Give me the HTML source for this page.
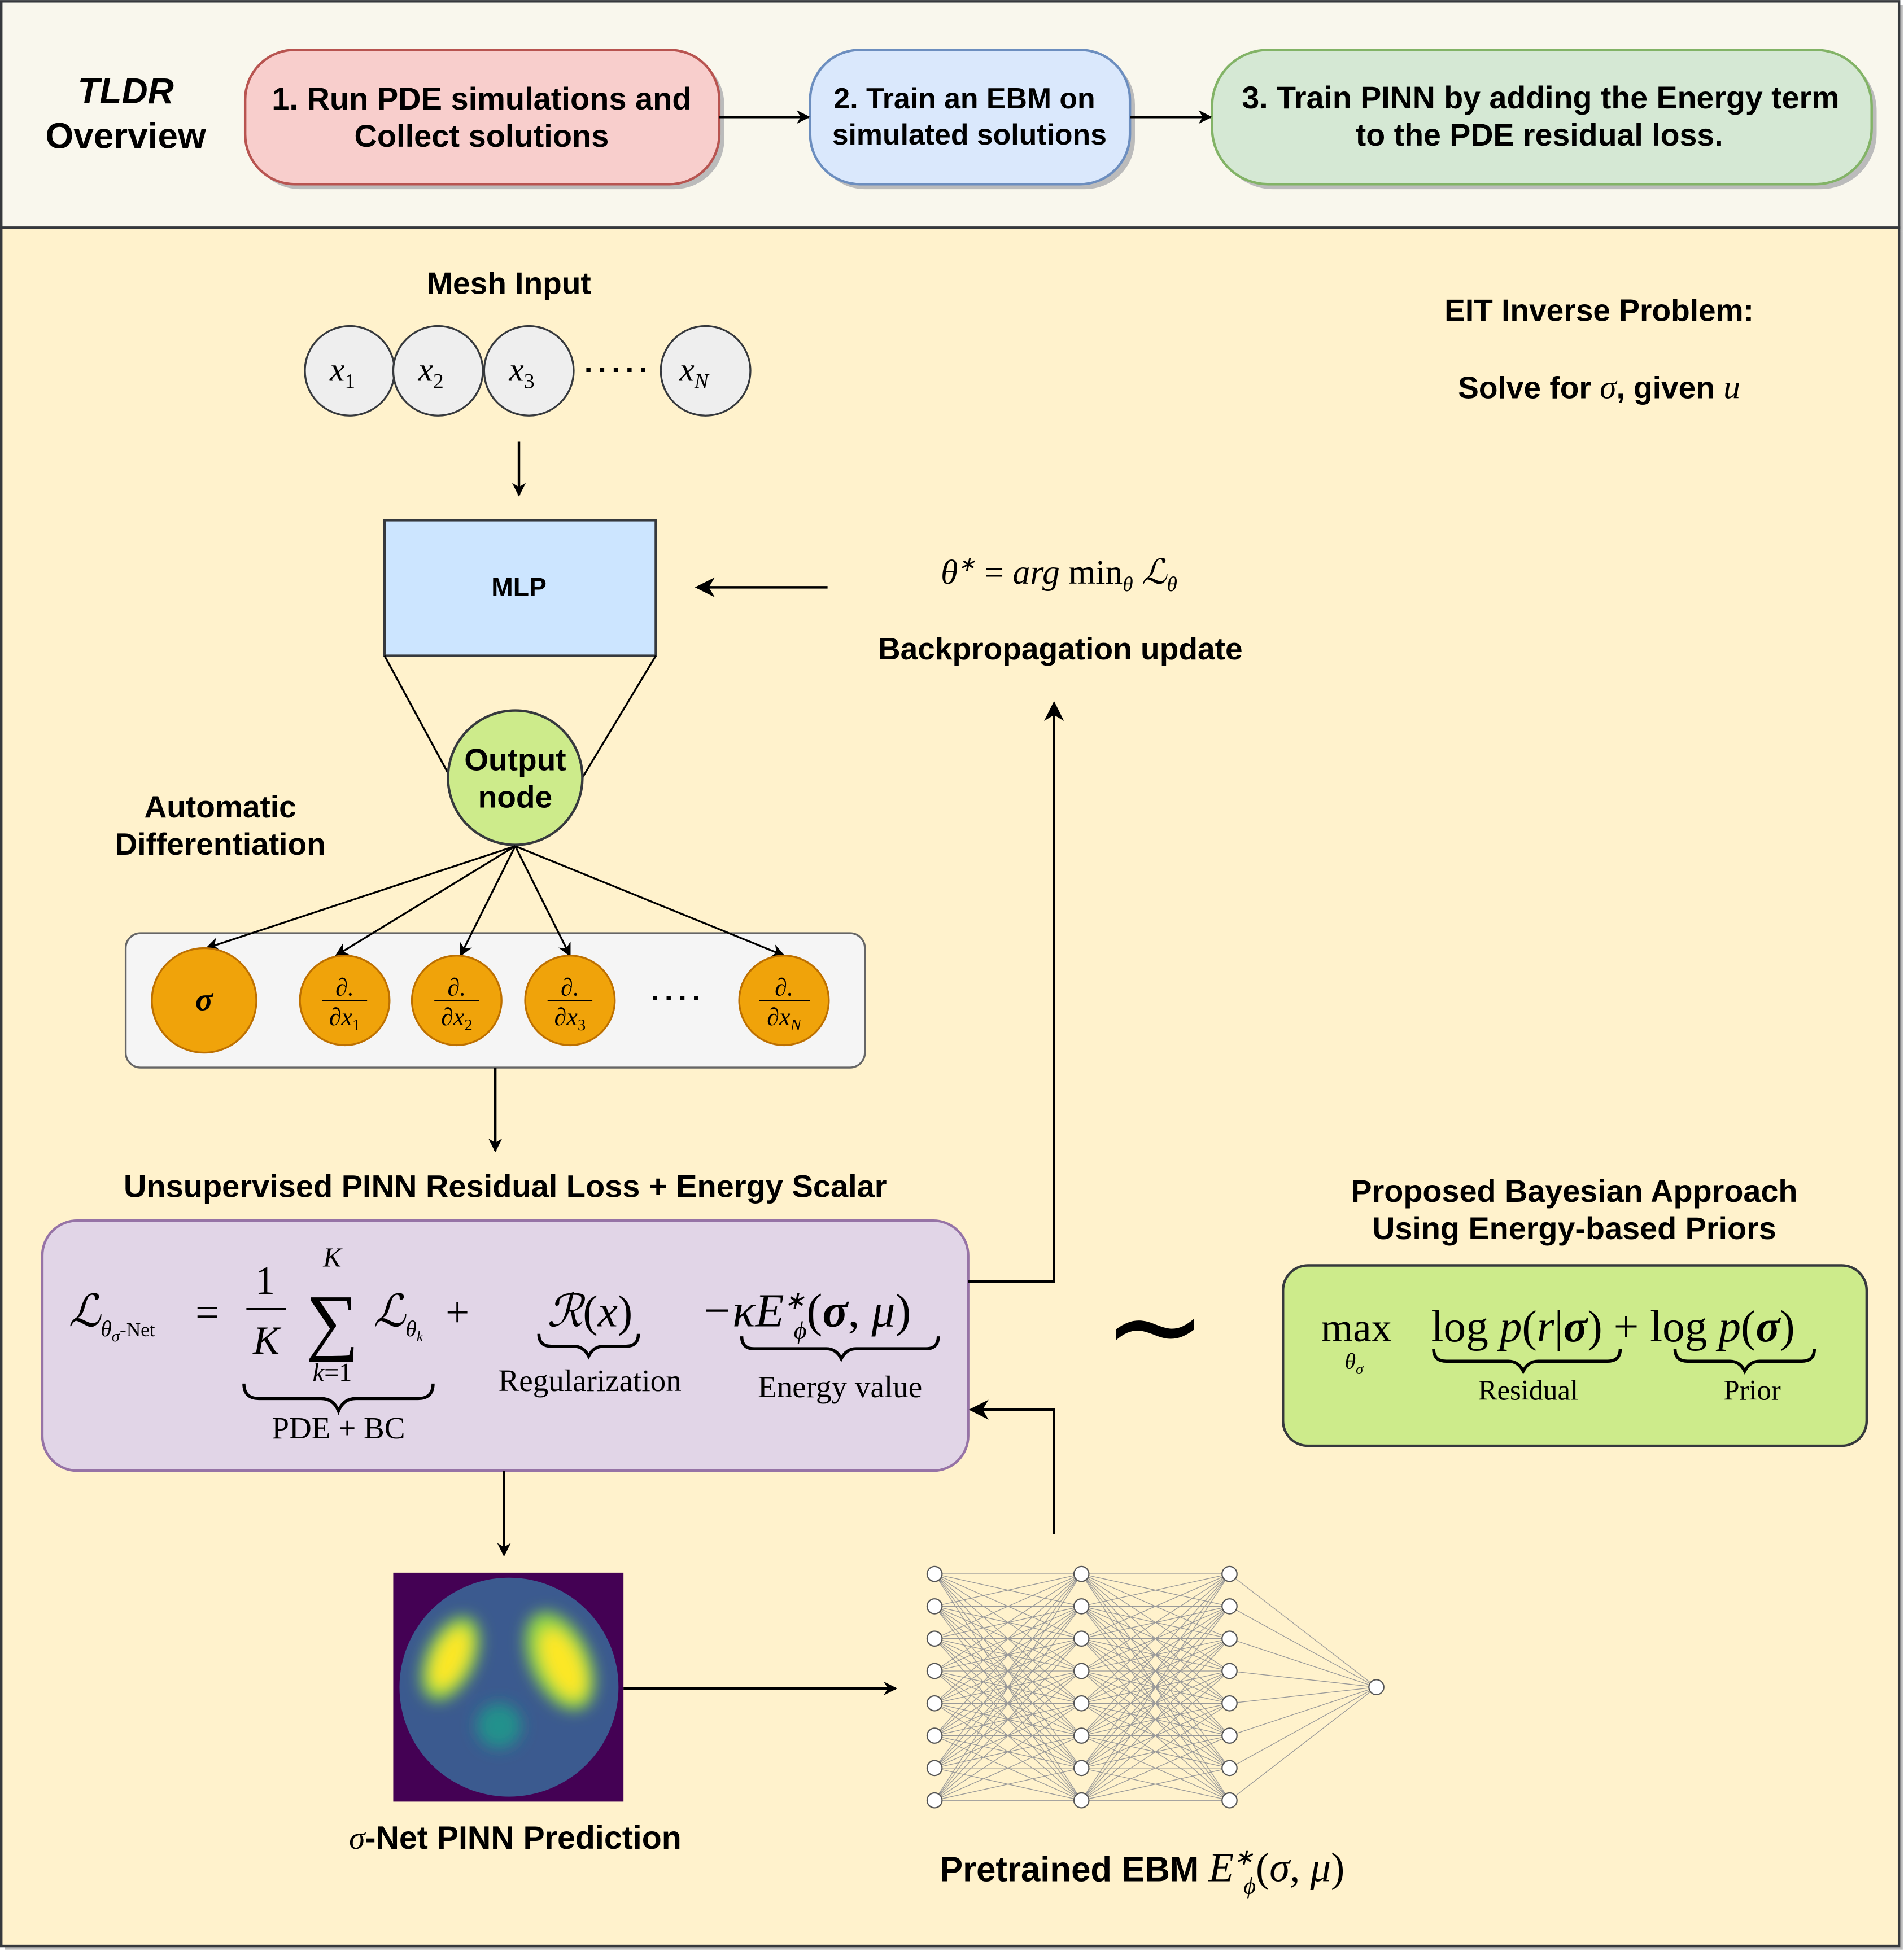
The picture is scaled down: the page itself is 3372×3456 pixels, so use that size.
<!DOCTYPE html>
<html><head><meta charset="utf-8"><style>
html,body{margin:0;padding:0;background:#fff}
svg{display:block}
.b{font-family:"Liberation Sans",sans-serif;font-weight:bold;fill:#000}
.m{font-family:"Liberation Serif",serif;font-style:italic;fill:#000}
.r{font-family:"Liberation Serif",serif;fill:#000}
</style></head><body>
<svg width="3372" height="3456" viewBox="0 0 1530 1568" xmlns="http://www.w3.org/2000/svg">
<defs>
<marker id="a" viewBox="0 0 10 10" refX="9" refY="5" markerWidth="11" markerHeight="11" orient="auto-start-reverse" markerUnits="userSpaceOnUse">
<path d="M0,0 L10,5 L0,10 L3,5 z" fill="#000"/></marker>
<marker id="a2" viewBox="0 0 10 10" refX="9" refY="5" markerWidth="16" markerHeight="16" orient="auto" markerUnits="userSpaceOnUse">
<path d="M0,0 L10,5 L0,10 L3,5 z" fill="#000"/></marker>
<filter id="bl" x="-50%" y="-50%" width="200%" height="200%"><feGaussianBlur stdDeviation="6"/></filter>
<clipPath id="cc"><circle cx="409" cy="1356" r="88"/></clipPath>
</defs>
<rect width="1530" height="1568" fill="#fff"/>
<rect x="4" y="4" width="1525" height="182" fill="#bbb"/>
<rect x="1" y="1" width="1525" height="182" fill="#f9f7ed" stroke="#36393d" stroke-width="2"/>
<rect x="4" y="186" width="1525" height="1381" fill="#bbb"/>
<rect x="1" y="183" width="1525" height="1381" fill="#fff2cc" stroke="#36393d" stroke-width="2"/>

<text class="b" x="101" y="83" font-size="29" text-anchor="middle" font-style="italic">TLDR</text>
<text class="b" x="101" y="119" font-size="29" text-anchor="middle">Overview</text>

<rect x="201" y="44" width="381" height="108" rx="40" fill="#bbb"/>
<rect x="197" y="40" width="381" height="108" rx="40" fill="#f8cecc" stroke="#b85450" stroke-width="2"/>
<text class="b" x="387" y="88" font-size="25.4" text-anchor="middle">1. Run PDE simulations and</text>
<text class="b" x="387" y="118" font-size="25.4" text-anchor="middle">Collect solutions</text>

<rect x="655" y="44" width="257" height="108" rx="40" fill="#bbb"/>
<rect x="651" y="40" width="257" height="108" rx="40" fill="#dae8fc" stroke="#6c8ebf" stroke-width="2"/>
<text class="b" x="775" y="87" font-size="23.5" text-anchor="middle">2. Train an EBM on</text>
<text class="b" x="779" y="116" font-size="23.5" text-anchor="middle">simulated solutions</text>

<rect x="978" y="44" width="530" height="108" rx="45" fill="#bbb"/>
<rect x="974" y="40" width="530" height="108" rx="45" fill="#d5e8d4" stroke="#82b366" stroke-width="2"/>
<text class="b" x="1238" y="87" font-size="25.2" text-anchor="middle">3. Train PINN by adding the Energy term</text>
<text class="b" x="1237" y="117" font-size="25.2" text-anchor="middle">to the PDE residual loss.</text>

<line x1="578" y1="94" x2="650" y2="94" stroke="#000" stroke-width="2" marker-end="url(#a)"/>
<line x1="908" y1="94" x2="973" y2="94" stroke="#000" stroke-width="2" marker-end="url(#a)"/>

<text class="b" x="409" y="236" font-size="25" text-anchor="middle">Mesh Input</text>
<g fill="#eeeeee" stroke="#36393d" stroke-width="1.5">
<circle cx="281" cy="298" r="36"/><circle cx="352" cy="298" r="36"/><circle cx="425" cy="298" r="36"/><circle cx="567" cy="298" r="36"/></g>
<text class="m" x="265" y="306" font-size="27">x<tspan font-size="17" font-style="normal" dy="6">1</tspan></text>
<text class="m" x="336" y="306" font-size="27">x<tspan font-size="17" font-style="normal" dy="6">2</tspan></text>
<text class="m" x="409" y="306" font-size="27">x<tspan font-size="17" font-style="normal" dy="6">3</tspan></text>
<text class="m" x="546" y="306" font-size="27">x<tspan font-size="17" dy="6">N</tspan></text>
<text class="b" x="497" y="305" font-size="24" text-anchor="middle" letter-spacing="3">·····</text>
<line x1="417" y1="355" x2="417" y2="398" stroke="#000" stroke-width="2" marker-end="url(#a)"/>

<rect x="309" y="418" width="218" height="109" fill="#cce5ff" stroke="#36393d" stroke-width="2"/>
<text class="b" x="417" y="479" font-size="21" text-anchor="middle">MLP</text>
<line x1="309" y1="527" x2="362" y2="625" stroke="#000" stroke-width="1.5"/>
<line x1="527" y1="527" x2="468" y2="625" stroke="#000" stroke-width="1.5"/>
<circle cx="414" cy="625" r="54" fill="#cdeb8b" stroke="#36393d" stroke-width="2"/>
<text class="b" x="414" y="619" font-size="25" text-anchor="middle">Output</text>
<text class="b" x="414" y="649" font-size="25" text-anchor="middle">node</text>

<text class="b" x="177" y="657" font-size="25" text-anchor="middle">Automatic</text>
<text class="b" x="177" y="687" font-size="25" text-anchor="middle">Differentiation</text>

<rect x="101" y="750" width="594" height="108" rx="12" fill="#f5f5f5" stroke="#666" stroke-width="1.5"/>
<g stroke="#000" stroke-width="1.5" marker-end="url(#a)">
<line x1="414" y1="680" x2="166" y2="762"/>
<line x1="414" y1="680" x2="270" y2="768"/>
<line x1="414" y1="680" x2="370" y2="768"/>
<line x1="414" y1="680" x2="458" y2="768"/>
<line x1="414" y1="680" x2="630" y2="768"/>
</g>
<g fill="#f0a30a" stroke="#bd7000" stroke-width="1.5">
<circle cx="164" cy="804" r="42"/><circle cx="277" cy="804" r="36"/><circle cx="367" cy="804" r="36"/><circle cx="458" cy="804" r="36"/><circle cx="630" cy="804" r="36"/></g>
<text class="m" x="164" y="812" font-size="26" font-weight="bold" text-anchor="middle">σ</text>
<g font-size="20">
<text class="m" x="277" y="800" text-anchor="middle">∂.</text><line x1="259" y1="804" x2="295" y2="804" stroke="#000"/><text class="m" x="277" y="824" text-anchor="middle">∂x<tspan font-size="13" font-style="normal" dy="4">1</tspan></text>
<text class="m" x="367" y="800" text-anchor="middle">∂.</text><line x1="349" y1="804" x2="385" y2="804" stroke="#000"/><text class="m" x="367" y="824" text-anchor="middle">∂x<tspan font-size="13" font-style="normal" dy="4">2</tspan></text>
<text class="m" x="458" y="800" text-anchor="middle">∂.</text><line x1="440" y1="804" x2="476" y2="804" stroke="#000"/><text class="m" x="458" y="824" text-anchor="middle">∂x<tspan font-size="13" font-style="normal" dy="4">3</tspan></text>
<text class="m" x="630" y="800" text-anchor="middle">∂.</text><line x1="610" y1="804" x2="651" y2="804" stroke="#000"/><text class="m" x="630" y="824" text-anchor="middle">∂x<tspan font-size="13" dy="4">N</tspan></text>
</g>
<text class="b" x="545" y="810" font-size="24" text-anchor="middle" letter-spacing="3">····</text>
<line x1="398" y1="858" x2="398" y2="925" stroke="#000" stroke-width="2" marker-end="url(#a)"/>

<text class="b" x="406" y="962" font-size="25.4" text-anchor="middle">Unsupervised PINN Residual Loss + Energy Scalar</text>
<rect x="34" y="981" width="744" height="201" rx="28" fill="#e1d5e7" stroke="#9673a6" stroke-width="2"/>
<text class="m" x="55" y="1066" font-size="36">ℒ<tspan font-size="18" dy="8">θ</tspan><tspan font-size="13" dy="4">σ</tspan><tspan font-size="16" font-style="normal" dy="-4">-Net</tspan></text>
<text class="r" x="157" y="1066" font-size="34">=</text>
<text class="r" x="213" y="1040" font-size="32" text-anchor="middle">1</text>
<line x1="198" y1="1052" x2="230" y2="1052" stroke="#000" stroke-width="1.5"/>
<text class="m" x="214" y="1088" font-size="32" text-anchor="middle">K</text>
<text class="m" x="267" y="1018" font-size="22" text-anchor="middle">K</text>
<text class="r" x="267" y="1082" font-size="60" text-anchor="middle">∑</text>
<text class="m" x="267" y="1110" font-size="21" text-anchor="middle">k<tspan font-style="normal">=1</tspan></text>
<text class="m" x="300" y="1066" font-size="36">ℒ<tspan font-size="18" dy="8">θ</tspan><tspan font-size="12" dy="4">k</tspan></text>
<text class="r" x="358" y="1066" font-size="34">+</text>
<path d="M196,1112 q0,12 12,12 h50 q10,0 14,10 q4,-10 14,-10 h50 q12,0 12,-12" fill="none" stroke="#000" stroke-width="2.5"/>
<text class="r" x="272" y="1156" font-size="25" text-anchor="middle">PDE + BC</text>
<text class="m" x="474" y="1066" font-size="36" text-anchor="middle">ℛ<tspan font-style="normal">(</tspan>x<tspan font-style="normal">)</tspan></text>
<path d="M433,1072 q0,10 10,10 h18 q8,0 12,8 q4,-8 12,-8 h18 q10,0 10,-10" fill="none" stroke="#000" stroke-width="2.5"/>
<text class="r" x="474" y="1118" font-size="25" text-anchor="middle">Regularization</text>
<text class="m" x="563" y="1066" font-size="38">−κE<tspan font-size="20" dy="-14">∗</tspan><tspan font-size="20" dx="-9" dy="24">ϕ</tspan><tspan font-style="normal" dy="-10">(</tspan><tspan font-weight="bold">σ</tspan><tspan font-style="normal">, </tspan>μ<tspan font-style="normal">)</tspan></text>
<path d="M596,1074 q0,10 10,10 h58 q8,0 12,8 q4,-8 12,-8 h56 q10,0 10,-10" fill="none" stroke="#000" stroke-width="2.5"/>
<text class="r" x="675" y="1123" font-size="25" text-anchor="middle">Energy  value</text>

<line x1="405" y1="1182" x2="405" y2="1250" stroke="#000" stroke-width="2" marker-end="url(#a)"/>

<rect x="316" y="1264" width="185" height="184" fill="#440154"/>
<circle cx="409" cy="1356" r="88" fill="#3b5a8f"/>
<g clip-path="url(#cc)" filter="url(#bl)">
<ellipse cx="362" cy="1333" rx="20" ry="36" transform="rotate(25 362 1333)" fill="#8fd744"/>
<ellipse cx="362" cy="1333" rx="12" ry="26" transform="rotate(25 362 1333)" fill="#fde725"/>
<ellipse cx="450" cy="1335" rx="24" ry="42" transform="rotate(-25 450 1335)" fill="#8fd744"/>
<ellipse cx="452" cy="1337" rx="14" ry="30" transform="rotate(-25 452 1337)" fill="#fde725"/>
<circle cx="401" cy="1387" r="18" fill="#21918c"/>
</g>
<text class="b" x="414" y="1486" font-size="26" text-anchor="middle"><tspan class="m" font-weight="normal">σ</tspan>-Net PINN Prediction</text>
<line x1="501" y1="1357" x2="720" y2="1357" stroke="#000" stroke-width="2" marker-end="url(#a)"/>

<g stroke="#999" stroke-width="0.6">
<path d="M751,1265L869,1265M751,1265L869,1291M751,1265L869,1317M751,1265L869,1343M751,1265L869,1369M751,1265L869,1395M751,1265L869,1421M751,1265L869,1447M751,1291L869,1265M751,1291L869,1291M751,1291L869,1317M751,1291L869,1343M751,1291L869,1369M751,1291L869,1395M751,1291L869,1421M751,1291L869,1447M751,1317L869,1265M751,1317L869,1291M751,1317L869,1317M751,1317L869,1343M751,1317L869,1369M751,1317L869,1395M751,1317L869,1421M751,1317L869,1447M751,1343L869,1265M751,1343L869,1291M751,1343L869,1317M751,1343L869,1343M751,1343L869,1369M751,1343L869,1395M751,1343L869,1421M751,1343L869,1447M751,1369L869,1265M751,1369L869,1291M751,1369L869,1317M751,1369L869,1343M751,1369L869,1369M751,1369L869,1395M751,1369L869,1421M751,1369L869,1447M751,1395L869,1265M751,1395L869,1291M751,1395L869,1317M751,1395L869,1343M751,1395L869,1369M751,1395L869,1395M751,1395L869,1421M751,1395L869,1447M751,1421L869,1265M751,1421L869,1291M751,1421L869,1317M751,1421L869,1343M751,1421L869,1369M751,1421L869,1395M751,1421L869,1421M751,1421L869,1447M751,1447L869,1265M751,1447L869,1291M751,1447L869,1317M751,1447L869,1343M751,1447L869,1369M751,1447L869,1395M751,1447L869,1421M751,1447L869,1447"/>
<path d="M869,1265L988,1265M869,1265L988,1291M869,1265L988,1317M869,1265L988,1343M869,1265L988,1369M869,1265L988,1395M869,1265L988,1421M869,1265L988,1447M869,1291L988,1265M869,1291L988,1291M869,1291L988,1317M869,1291L988,1343M869,1291L988,1369M869,1291L988,1395M869,1291L988,1421M869,1291L988,1447M869,1317L988,1265M869,1317L988,1291M869,1317L988,1317M869,1317L988,1343M869,1317L988,1369M869,1317L988,1395M869,1317L988,1421M869,1317L988,1447M869,1343L988,1265M869,1343L988,1291M869,1343L988,1317M869,1343L988,1343M869,1343L988,1369M869,1343L988,1395M869,1343L988,1421M869,1343L988,1447M869,1369L988,1265M869,1369L988,1291M869,1369L988,1317M869,1369L988,1343M869,1369L988,1369M869,1369L988,1395M869,1369L988,1421M869,1369L988,1447M869,1395L988,1265M869,1395L988,1291M869,1395L988,1317M869,1395L988,1343M869,1395L988,1369M869,1395L988,1395M869,1395L988,1421M869,1395L988,1447M869,1421L988,1265M869,1421L988,1291M869,1421L988,1317M869,1421L988,1343M869,1421L988,1369M869,1421L988,1395M869,1421L988,1421M869,1421L988,1447M869,1447L988,1265M869,1447L988,1291M869,1447L988,1317M869,1447L988,1343M869,1447L988,1369M869,1447L988,1395M869,1447L988,1421M869,1447L988,1447"/>
<path d="M988,1265L1106,1356M988,1291L1106,1356M988,1317L1106,1356M988,1343L1106,1356M988,1369L1106,1356M988,1395L1106,1356M988,1421L1106,1356M988,1447L1106,1356"/>
</g>
<g fill="#fff" stroke="#555" stroke-width="1">
<circle cx="751" cy="1265" r="6"/><circle cx="751" cy="1291" r="6"/><circle cx="751" cy="1317" r="6"/><circle cx="751" cy="1343" r="6"/><circle cx="751" cy="1369" r="6"/><circle cx="751" cy="1395" r="6"/><circle cx="751" cy="1421" r="6"/><circle cx="751" cy="1447" r="6"/>
<circle cx="869" cy="1265" r="6"/><circle cx="869" cy="1291" r="6"/><circle cx="869" cy="1317" r="6"/><circle cx="869" cy="1343" r="6"/><circle cx="869" cy="1369" r="6"/><circle cx="869" cy="1395" r="6"/><circle cx="869" cy="1421" r="6"/><circle cx="869" cy="1447" r="6"/>
<circle cx="988" cy="1265" r="6"/><circle cx="988" cy="1291" r="6"/><circle cx="988" cy="1317" r="6"/><circle cx="988" cy="1343" r="6"/><circle cx="988" cy="1369" r="6"/><circle cx="988" cy="1395" r="6"/><circle cx="988" cy="1421" r="6"/><circle cx="988" cy="1447" r="6"/>
<circle cx="1106" cy="1356" r="6"/></g>
<text class="b" x="755" y="1512" font-size="28">Pretrained EBM <tspan class="m" font-weight="normal" font-size="33">E<tspan font-size="19" dy="-13">∗</tspan><tspan font-size="19" dx="-8" dy="23">ϕ</tspan><tspan font-style="normal" dy="-10">(</tspan>σ<tspan font-style="normal">, </tspan>μ<tspan font-style="normal">)</tspan></tspan></text>

<polyline points="847,1233 847,1133 780,1133" fill="none" stroke="#000" stroke-width="2" marker-end="url(#a2)"/>
<polyline points="778,1030 847,1030 847,565" fill="none" stroke="#000" stroke-width="2" marker-end="url(#a2)"/>
<line x1="665" y1="472" x2="560" y2="472" stroke="#000" stroke-width="2" marker-end="url(#a2)"/>
<text class="m" x="851" y="469" font-size="28" text-anchor="middle">θ<tspan font-size="17" dy="-10">∗</tspan><tspan dy="10" font-style="normal"> = </tspan>arg <tspan font-style="normal">min</tspan><tspan font-size="17" dy="6">θ</tspan><tspan dy="-6"> ℒ</tspan><tspan font-size="17" dy="6">θ</tspan></text>
<text class="b" x="852" y="530" font-size="25" text-anchor="middle">Backpropagation update</text>

<text class="b" x="1285" y="258" font-size="25" text-anchor="middle">EIT Inverse Problem:</text>
<text class="b" x="1285" y="320" font-size="25" text-anchor="middle">Solve for <tspan class="m" font-weight="normal" font-size="27">σ</tspan>, given <tspan class="m" font-weight="normal" font-size="27">u</tspan></text>

<text class="b" x="1265" y="966" font-size="25.3" text-anchor="middle">Proposed Bayesian Approach</text>
<text class="b" x="1265" y="996" font-size="25.3" text-anchor="middle">Using Energy-based Priors</text>
<text class="r" x="928" y="1100" font-size="100" text-anchor="middle">∼</text>

<rect x="1031" y="1017" width="469" height="145" rx="20" fill="#cdeb8b" stroke="#36393d" stroke-width="2"/>
<text class="r" x="1090" y="1078" font-size="33" text-anchor="middle">max</text>
<text class="m" x="1088" y="1100" font-size="18" text-anchor="middle">θ<tspan font-size="12" dy="4">σ</tspan></text>
<text class="r" x="1150" y="1078" font-size="36">log <tspan font-style="italic">p</tspan>(<tspan font-style="italic">r</tspan>|<tspan font-weight="bold" font-style="italic">σ</tspan>) + log <tspan font-style="italic">p</tspan>(<tspan font-weight="bold" font-style="italic">σ</tspan>)</text>
<path d="M1152,1084 q0,10 10,10 h50 q8,0 12,8 q4,-8 12,-8 h56 q10,0 10,-10" fill="none" stroke="#000" stroke-width="2.5"/>
<text class="r" x="1228" y="1125" font-size="23" text-anchor="middle">Residual</text>
<path d="M1346,1084 q0,10 10,10 h34 q8,0 12,8 q4,-8 12,-8 h34 q10,0 10,-10" fill="none" stroke="#000" stroke-width="2.5"/>
<text class="r" x="1408" y="1125" font-size="23" text-anchor="middle">Prior</text>
</svg>
</body></html>
